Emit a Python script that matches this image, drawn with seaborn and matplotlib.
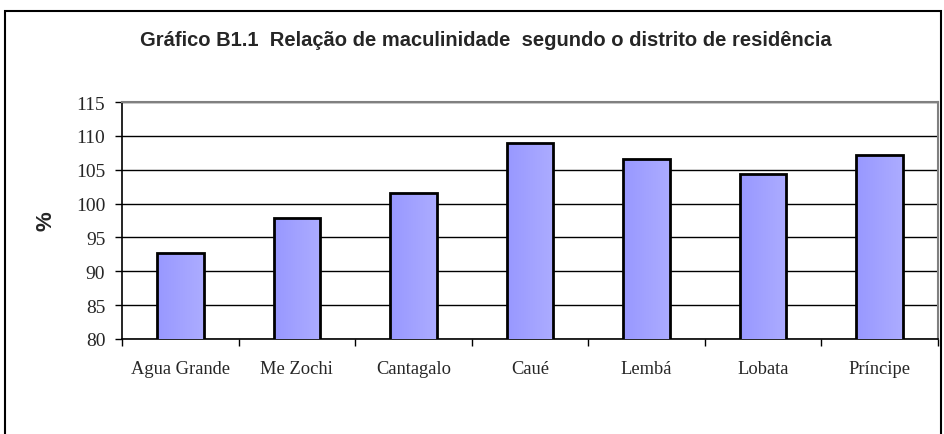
import numpy as np
import matplotlib
matplotlib.use("Agg")
import matplotlib.pyplot as plt
from matplotlib.patches import Rectangle
from matplotlib.colors import LinearSegmentedColormap
import seaborn as sns

districts = ['Agua Grande', 'Me Zochi', 'Cantagalo', 'Caué', 'Lembá', 'Lobata', 'Príncipe']
ratio = [92.7, 97.8, 101.6, 108.9, 106.6, 104.3, 107.2]
yticks = [80, 85, 90, 95, 100, 105, 110, 115]

sns.set_theme(style='white')
plt.rcParams['font.family'] = ['Liberation Serif', 'DejaVu Serif']

fig = plt.figure(figsize=(9.44, 4.35), dpi=100)
ax = fig.add_axes([122 / 944, 1 - 340 / 435, 816 / 944, 237 / 435])

sns.barplot(x=districts, y=ratio, color='#A3A3FF', edgecolor='black',
            linewidth=2, width=0.4, ax=ax, zorder=3)

# soft gradient fill like the original spreadsheet bars
grad_cmap = LinearSegmentedColormap.from_list('bar', ['#9898FF', '#ACACFF'])
grad = np.linspace(0, 1, 64).reshape(1, -1)
for p in ax.patches:
    x0, y0 = p.get_x(), 80
    x1, y1 = p.get_x() + p.get_width(), p.get_height()
    im = ax.imshow(grad, cmap=grad_cmap, extent=[x0, x1, y0, y1],
                   aspect='auto', zorder=3.5, interpolation='bicubic')
    im.set_clip_path(p)
    p.set_facecolor('none')
    p.set_zorder(4)

ax.set_xlim(-0.5, len(districts) - 0.5)
ax.set_ylim(80, 115)
ax.set_yticks(yticks)
ax.set_yticklabels([str(v) for v in yticks], fontsize=14)
ax.set_xticks(range(len(districts)))
ax.set_xticklabels(districts, fontsize=13.3)
ax.set_xticks(np.arange(-0.5, len(districts), 1.0), minor=True)
ax.tick_params(axis='x', which='major', length=0, pad=15)
ax.tick_params(axis='x', which='minor', length=5, width=1, color='black', direction='out', bottom=True)
ax.tick_params(axis='y', length=5, width=1, color='black', direction='out', left=True, pad=7)

ax.yaxis.grid(True, color='black', linewidth=1)
ax.set_axisbelow(True)
for s in ['top', 'right']:
    ax.spines[s].set_color('#808080')
    ax.spines[s].set_linewidth(1.5)
for s in ['left', 'bottom']:
    ax.spines[s].set_color('black')
    ax.spines[s].set_linewidth(1.2)

ax.set_ylabel('%', fontsize=16, fontweight='bold', family='Liberation Sans', labelpad=14)
ax.set_xlabel('')

fig.text(486 / 944, 1 - 40 / 435,
         'Gráfico B1.1  Relação de maculinidade  segundo o distrito de residência',
         ha='center', va='center', fontsize=14.5, fontweight='bold', family='Liberation Sans')

# outer frame of the chart object
fig.patches.append(Rectangle((5 / 944, -0.05), 936 / 944, 1.05 - 12 / 435,
                             transform=fig.transFigure, fill=False,
                             edgecolor='black', linewidth=1.5))

fig.savefig('out.png', dpi=100)
